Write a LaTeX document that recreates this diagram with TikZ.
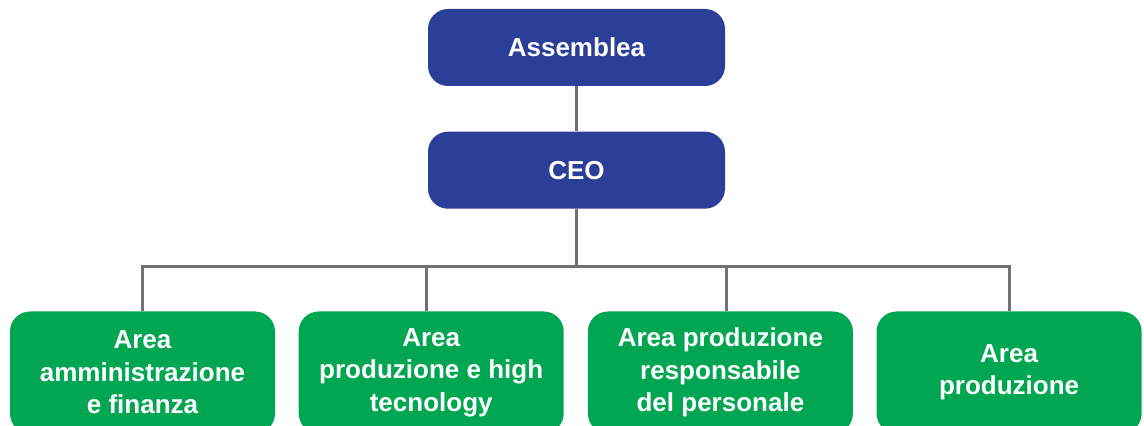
\documentclass[tikz,border=0pt]{standalone}
\usepackage{fontspec}
\setmainfont{Liberation Sans}
\usepackage{tikz}
\usetikzlibrary{calc}
\usetikzlibrary{positioning,shapes,arrows,arrows.meta}
\definecolor{bossblue}{HTML}{2B3F99}
\definecolor{areagreen}{HTML}{00A651}
\definecolor{linkgray}{HTML}{717175}
\tikzstyle{boss} = [rectangle, rounded corners=0.4cm, fill=bossblue, text=white, font=\bfseries\fontsize{14.8}{18.4}\selectfont, align=center, minimum width=5.94cm, minimum height=1.54cm, inner sep=0pt]
\tikzstyle{area} = [rectangle, rounded corners=0.4cm, fill=areagreen, text=white, font=\bfseries\fontsize{14.8}{18.4}\selectfont, align=center, minimum width=5.3cm, minimum height=2.44cm, inner sep=0pt]
\tikzstyle{link} = [draw=linkgray, line width=1.7pt]

\begin{document}
\begin{tikzpicture}
		\useasboundingbox (0,0) rectangle (22.88,-8.52);
		\node (assemblea) [boss] at (11.53,-0.95) {Assemblea};
		\node (ceo) [boss,below=0.9 of assemblea] {CEO};
		\node (area-amm) [area] at (2.85,-7.45) {Area\\amministrazione\\e finanza};
		\node (area-ht) [area,right=0.46 of area-amm] {Area\\produzione e high\\tecnology};
		\node (area-pers) [area,right=0.47 of area-ht] {Area produzione\\responsabile\\del personale};
		\node (area-prod) [area,right=0.46 of area-pers] {Area\\produzione};
		
		\coordinate (bar) at ($(ceo.south)+(0,-1.14)$);
		
		\draw [link] (assemblea) -- (ceo);
		\draw [link] (ceo) -- (bar);
		\draw [link] (bar) -| (area-amm.north);
		\draw [link] (bar) -| ([xshift=-0.1cm]area-ht.north);
		\draw [link] (bar) -| ([xshift=0.12cm]area-pers.north);
		\draw [link] (bar) -| (area-prod.north);
		
	\end{tikzpicture}
\end{document}
